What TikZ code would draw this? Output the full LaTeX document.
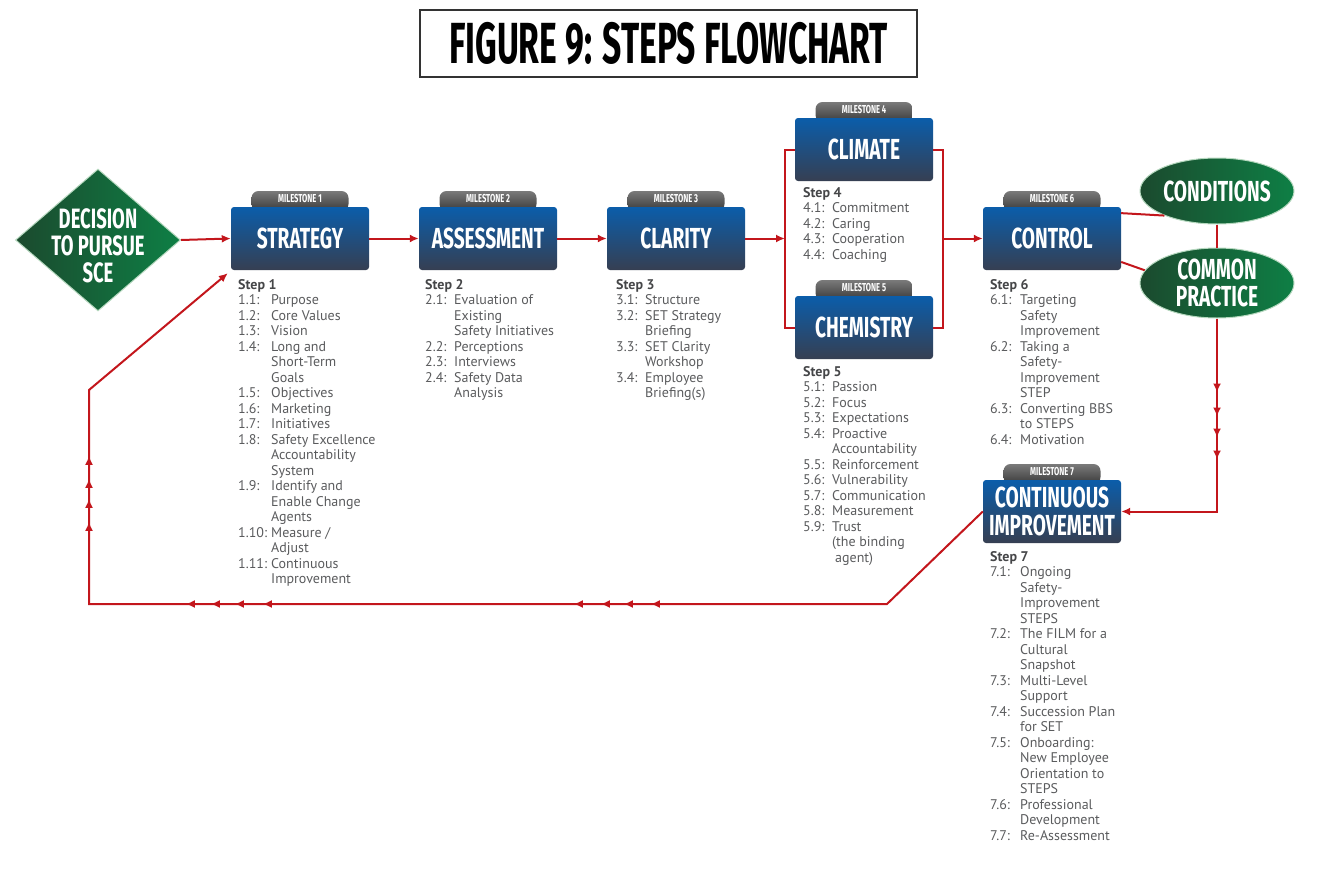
\documentclass[tikz,border=0pt]{standalone}
\usepackage{fontspec}
\setmainfont{PT Sans}
\newfontfamily\headfont[FakeStretch=0.66]{Fira Sans}
\newfontfamily\titlefont[FakeStretch=0.58]{Fira Sans}
\usetikzlibrary{shapes,calc,arrows.meta,decorations.markings}

\definecolor{flowred}{HTML}{C3161C}
\definecolor{boxtop}{HTML}{0B5DAA}
\definecolor{boxbot}{HTML}{363F52}
\definecolor{tabtop}{HTML}{7A7A7A}
\definecolor{tabbot}{HTML}{3A3A3A}
\definecolor{greendark}{HTML}{1B4A2E}
\definecolor{greenlight}{HTML}{0E7F45}
\definecolor{greenrim}{HTML}{B5D8BE}
\definecolor{stepgrey}{HTML}{5A5B5D}
\definecolor{stephead}{HTML}{454648}

\tikzset{
  milestone/.style={rectangle,rounded corners=3pt,minimum width=138pt,minimum height=63pt,
    top color=boxtop,bottom color=boxbot,text=white,align=center,inner sep=0pt,
    font=\headfont\bfseries\fontsize{29}{28}\selectfont},
  mtab/.style={rectangle,rounded corners=7pt,minimum width=97pt,minimum height=20pt,
    top color=tabtop,bottom color=tabbot,text=white,inner sep=0pt,text depth=5pt,
    font=\headfont\bfseries\fontsize{11.5}{12}\selectfont},
  greenoval/.style={ellipse,minimum width=154pt,inner sep=0pt,left color=greendark,
    right color=greenlight,draw=greenrim,line width=1pt,text=white,align=center,
    font=\headfont\bfseries\fontsize{29}{27}\selectfont},
  steplist/.style={anchor=north west,inner sep=0pt,text=stepgrey,align=left,
    font=\fontsize{14}{15.5}\selectfont},
  flow/.style={draw=flowred,color=flowred,line width=2pt},
}

% milestone box with its tab: name, position, number, label
\newcommand{\milestonebox}[4]{%
  \node[mtab] (#1tab) at ($(#2)+(0,-37.5)$) {MILESTONE #3};
  \node[milestone] (#1) at (#2) {#4};
}
\newcommand{\stephead}[1]{\multicolumn{2}{@{}l@{}}{\textcolor{stephead}{\textbf{Step #1}}}}

\begin{document}
\begin{tikzpicture}[x=1pt,y=-1pt,>={Latex[length=9pt,width=8pt]}]
\useasboundingbox (0,0) rectangle (1336,886);

% title
\node[draw=black!80,line width=1.6pt,minimum width=497pt,minimum height=67pt,inner sep=0pt,
  font=\titlefont\bfseries\fontsize{58}{58}\selectfont] (title) at (668.5,43.5) {FIGURE 9: STEPS FLOWCHART};

% start
\node[diamond,minimum width=165pt,minimum height=142pt,inner sep=0pt,left color=greendark,
  right color=greenlight,draw=greenrim,line width=1pt,
  label={[text=white,align=center,yshift=-6pt,font=\headfont\bfseries\fontsize{28}{27}\selectfont]center:DECISION\\TO PURSUE\\SCE}]
  (dec) at (98,240) {};

% milestones
\milestonebox{strat}{300,238.5}{1}{STRATEGY}
\milestonebox{assess}{488,238.5}{2}{ASSESSMENT}
\milestonebox{clar}{676,238.5}{3}{CLARITY}
\milestonebox{clim}{864,149.5}{4}{CLIMATE}
\milestonebox{chem}{864,327.5}{5}{CHEMISTRY}
\milestonebox{ctrl}{1052,238.5}{6}{CONTROL}
\milestonebox{cont}{1052,511.5}{7}{CONTINUOUS\\IMPROVEMENT}

\node[greenoval,minimum height=66pt] (cond) at (1217,191) {CONDITIONS};
\node[greenoval,minimum height=70pt] (comm) at (1217,283) {COMMON\\PRACTICE};

% step lists
\node[steplist] (step1) at (238,278) {\begin{tabular}{@{}p{33pt}@{}l@{}}
\stephead{1}\\
1.1: & Purpose\\
1.2: & Core Values\\
1.3: & Vision\\
1.4: & Long and\\
 & Short-Term\\
 & Goals\\
1.5: & Objectives\\
1.6: & Marketing\\
1.7: & Initiatives\\
1.8: & Safety Excellence\\
 & Accountability\\
 & System\\
1.9: & Identify and\\
 & Enable Change\\
 & Agents\\
1.10: & Measure /\\
 & Adjust\\
1.11: & Continuous\\
 & Improvement
\end{tabular}};

\node[steplist] (step2) at (425,278) {\begin{tabular}{@{}p{29pt}@{}l@{}}
\stephead{2}\\
2.1: & Evaluation of\\
 & Existing\\
 & Safety Initiatives\\
2.2: & Perceptions\\
2.3: & Interviews\\
2.4: & Safety Data\\
 & Analysis
\end{tabular}};

\node[steplist] (step3) at (616,278) {\begin{tabular}{@{}p{29pt}@{}l@{}}
\stephead{3}\\
3.1: & Structure\\
3.2: & SET Strategy\\
 & Briefing\\
3.3: & SET Clarity\\
 & Workshop\\
3.4: & Employee\\
 & Briefing(s)
\end{tabular}};

\node[steplist] (step4) at (803,186) {\begin{tabular}{@{}p{29pt}@{}l@{}}
\stephead{4}\\
4.1: & Commitment\\
4.2: & Caring\\
4.3: & Cooperation\\
4.4: & Coaching
\end{tabular}};

\node[steplist] (step5) at (803,365) {\begin{tabular}{@{}p{29pt}@{}l@{}}
\stephead{5}\\
5.1: & Passion\\
5.2: & Focus\\
5.3: & Expectations\\
5.4: & Proactive\\
 & Accountability\\
5.5: & Reinforcement\\
5.6: & Vulnerability\\
5.7: & Communication\\
5.8: & Measurement\\
5.9: & Trust\\
 & (the binding\\
 & \hspace{3pt}agent)
\end{tabular}};

\node[steplist] (step6) at (990,278) {\begin{tabular}{@{}p{30pt}@{}l@{}}
\stephead{6}\\
6.1: & Targeting\\
 & Safety\\
 & Improvement\\
6.2: & Taking a\\
 & Safety-\\
 & Improvement\\
 & STEP\\
6.3: & Converting BBS\\
 & to STEPS\\
6.4: & Motivation
\end{tabular}};

\node[steplist] (step7) at (990,550) {\begin{tabular}{@{}p{30pt}@{}l@{}}
\stephead{7}\\
7.1: & Ongoing\\
 & Safety-\\
 & Improvement\\
 & STEPS\\
7.2: & The FILM for a\\
 & Cultural\\
 & Snapshot\\
7.3: & Multi-Level\\
 & Support\\
7.4: & Succession Plan\\
 & for SET\\
7.5: & Onboarding:\\
 & New Employee\\
 & Orientation to\\
 & STEPS\\
7.6: & Professional\\
 & Development\\
7.7: & Re-Assessment
\end{tabular}};

% connectors
\coordinate (splitL) at (785,238.5);
\coordinate (splitR) at (943,238.5);
\draw[flow,->] (dec.east) -- (strat.west);
\draw[flow,->] (strat.east) -- (assess.west);
\draw[flow,->] (assess.east) -- (clar.west);
\draw[flow,->] (clar.east) -- (splitL);
\draw[flow] (clim.west) -| (splitL) |- (chem.west);
\draw[flow] (clim.east) -| (splitR) |- (chem.east);
\draw[flow,->] (splitR) -- (ctrl.west);
\draw[flow] ($(ctrl.north east)!0.1!(ctrl.south east)$) -- (cond.205);
\draw[flow] ($(ctrl.north east)!0.87!(ctrl.south east)$) -- (comm.170);
\draw[flow] (cond.south) -- (comm.north);
\draw[flow,->,postaction={decorate},decoration={markings,
  mark=at position 74pt with {\arrow{>}},mark=at position 98pt with {\arrow{>}},
  mark=at position 119pt with {\arrow{>}},mark=at position 141pt with {\arrow{>}}}]
  (comm.south) |- (cont.east);

% feedback loop
\coordinate (ret1) at (887,604);
\coordinate (ret2) at (89,604);
\coordinate (ret3) at (89,390);
\draw[flow,->,postaction={decorate},decoration={markings,
  mark=at position 369pt with {\arrow{>}},mark=at position 396pt with {\arrow{>}},
  mark=at position 419pt with {\arrow{>}},mark=at position 446pt with {\arrow{>}},
  mark=at position 757pt with {\arrow{>}},mark=at position 785pt with {\arrow{>}},
  mark=at position 809pt with {\arrow{>}},mark=at position 834pt with {\arrow{>}},
  mark=at position 1013pt with {\arrow{>}},mark=at position 1036pt with {\arrow{>}},
  mark=at position 1056pt with {\arrow{>}},mark=at position 1079pt with {\arrow{>}}}]
  (cont.west) -- (ret1) -- (ret2) -- (ret3) -- ($(strat.south west)+(-3,3)$);
\end{tikzpicture}
\end{document}
